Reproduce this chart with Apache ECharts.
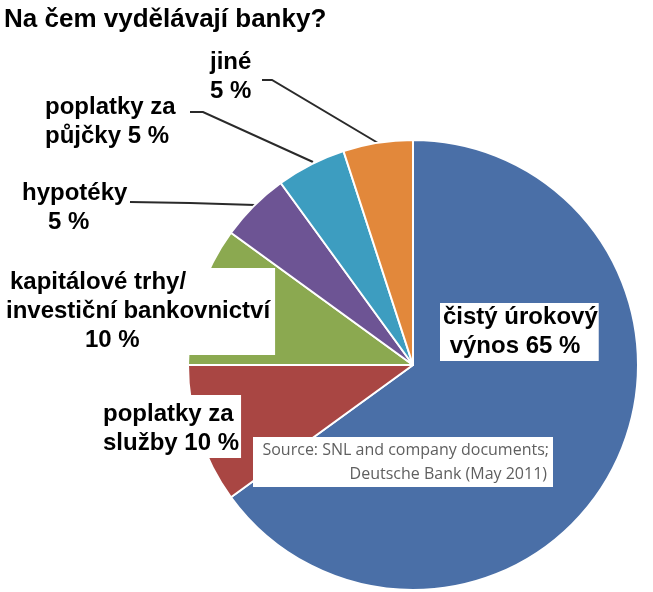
<!DOCTYPE html>
<html>
<head>
<meta charset="utf-8">
<script src="https://cdn.jsdelivr.net/npm/echarts@6/dist/echarts.min.js"></script>
<style>
html,body{margin:0;padding:0;background:#fff;}
#chart{width:653px;height:592px;}
</style>
</head>
<body>
<div id="chart"></div>
<script>
// ---- data ----
const titleText = 'Na čem vydělávají banky?';
const sourceLines = ['Source: SNL and company documents;', 'Deutsche Bank (May 2011)'];
const categories = ['čistý úrokový výnos', 'poplatky za služby', 'kapitálové trhy/investiční bankovnictví', 'hypotéky', 'poplatky za půjčky', 'jiné'];
const values = [65, 10, 10, 5, 5, 5];
const sliceColors = ['#4a6fa7', '#a94643', '#8ba950', '#6d5494', '#3d9dc0', '#e2883b'];
const labelTexts = [
  '{a|čistý úrokový}\n{a| výnos 65 %}',
  '{a|poplatky za}\n{a|služby 10 %}',
  '{p|kapitálové trhy/}\n{a|investiční bankovnictví}\n{q|10 %}',
  '{a|hypotéky}\n{r|5 %}',
  '{a|poplatky za}\n{a|půjčky 5 %}',
  '{a|jiné}\n{a|5 %}'
];

// ---- layout (positions, not data) ----
const labelBoxes = [
  {x: 440, y: 303, pad: [0, 1, 0, 3], line: null},
  {x: 97, y: 395, pad: [5, 2, 0, 6], line: null},
  {x: 0, y: 268, pad: [0, 5, 0, 6], line: null},
  {x: 22, y: 179, pad: [0, 0, 0, 0], line: [[255, 205], [190, 203], [130, 202]]},
  {x: 45, y: 93, pad: [0, 0, 0, 0], line: [[313, 162], [203, 112], [190, 112]]},
  {x: 210, y: 48, pad: [0, 0, 0, 0], line: [[378, 143], [272, 80], [262, 80]]}
];

const FONT = 'Liberation Sans, Arial, sans-serif';
const base = {fontFamily: FONT, fontWeight: 'bold', fontSize: 24, lineHeight: 29, color: '#000'};
const rich = {
  a: Object.assign({}, base),
  p: Object.assign({}, base, {padding: [0, 0, 0, 4]}),
  q: Object.assign({}, base, {padding: [0, 0, 0, 79]}),
  r: Object.assign({}, base, {padding: [0, 0, 0, 26]})
};

const pieData = categories.map((name, i) => ({
  name: name,
  value: values[i],
  itemStyle: {color: sliceColors[i]},
  label: {
    formatter: labelTexts[i],
    padding: labelBoxes[i].pad,
    backgroundColor: labelBoxes[i].line ? 'transparent' : '#fff',
    rich: rich
  },
  labelLine: {show: !!labelBoxes[i].line}
}));

const SRC_FONT = '16px "Open Sans", sans-serif';

const chart = echarts.init(document.getElementById('chart'), null, {renderer: 'canvas'});
chart.setOption({
  backgroundColor: '#fff',
  animation: false,
  title: {
    text: titleText,
    left: 4,
    top: 7,
    padding: 0,
    textStyle: {fontFamily: FONT, fontWeight: 'bold', fontSize: 26, color: '#000'}
  },
  graphic: [
    {type: 'rect', z: 100, shape: {x: 253, y: 437, width: 300, height: 50}, style: {fill: '#fff'}},
    {type: 'text', z: 101, x: 549, y: 450, style: {text: sourceLines[0], align: 'right', verticalAlign: 'middle', font: SRC_FONT, fill: '#5f5f5f'}},
    {type: 'text', z: 101, x: 547, y: 474, style: {text: sourceLines[1], align: 'right', verticalAlign: 'middle', font: SRC_FONT, fill: '#5f5f5f'}}
  ],
  series: [{
    type: 'pie',
    center: [413, 365],
    radius: 225,
    startAngle: 90,
    clockwise: true,
    avoidLabelOverlap: false,
    itemStyle: {borderColor: '#fff', borderWidth: 2},
    label: {show: true, position: 'outside'},
    labelLine: {
      showAbove: false,
      lineStyle: {color: '#2a2a2a', width: 2}
    },
    labelLayout: function (params) {
      const b = labelBoxes[params.dataIndex];
      const res = {x: b.x, y: b.y, align: 'left', verticalAlign: 'top', hideOverlap: false, moveOverlap: null};
      if (b.line) res.labelLinePoints = b.line;
      return res;
    },
    data: pieData
  }]
});
</script>
</body>
</html>
